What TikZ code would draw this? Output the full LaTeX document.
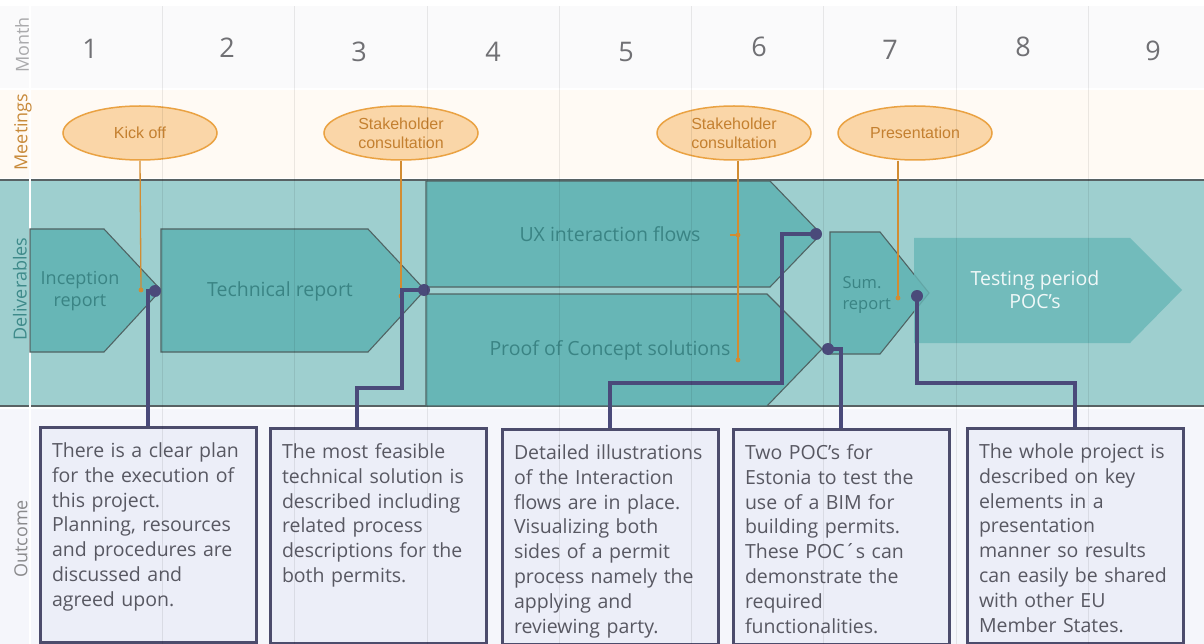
\documentclass[tikz,border=0pt]{standalone}
\usepackage{fontspec}
\setmainfont{Open Sans}
\newfontfamily\meetingfont{Liberation Sans}
\usepackage{xcolor}
\usepackage{tikz}
\usetikzlibrary{
  shapes.geometric
}
\definecolor{monthbg}{RGB}{250,250,251}
\definecolor{meetbg}{RGB}{255,250,244}
\definecolor{delivbg}{RGB}{158,207,207}
\definecolor{outbg}{RGB}{245,246,251}
\definecolor{bandline}{RGB}{88,98,100}
\definecolor{monthink}{RGB}{112,112,116}
\definecolor{monthlab}{RGB}{170,170,172}
\definecolor{meetlab}{RGB}{200,138,58}
\definecolor{delivlab}{RGB}{62,138,138}
\definecolor{outlab}{RGB}{138,138,140}
\definecolor{meetfill}{RGB}{250,214,168}
\definecolor{meetedge}{RGB}{234,162,66}
\definecolor{meetink}{RGB}{196,128,48}
\definecolor{meetstem}{RGB}{210,140,50}
\definecolor{delivfill}{RGB}{103,182,182}
\definecolor{delivedge}{RGB}{80,100,100}
\definecolor{delivink}{RGB}{58,132,132}
\definecolor{linkpurple}{RGB}{74,74,122}
\definecolor{outfill}{RGB}{236,238,248}
\definecolor{outedge}{RGB}{76,76,108}
\definecolor{outink}{RGB}{88,88,98}
\tikzset{
  rowlab/.style={rotate=90,font=\fontsize{18}{18}\selectfont},
  monthnum/.style={font=\fontsize{27}{27}\selectfont,text=monthink},
  meeting/.style={ellipse,draw=meetedge,line width=1.5pt,fill=meetfill,
    minimum width=154pt,minimum height=54pt,inner sep=0pt,align=center,
    text=meetink,font=\meetingfont\fontsize{16}{19}\selectfont},
  meetline/.style={draw=meetstem,line width=1.3pt},
  meetdot/.style={fill=meetstem},
  deliv/.style={draw=delivedge,line width=1.1pt,fill=delivfill,line join=miter},
  testing/.style={fill=delivfill,fill opacity=0.8},
  delivtext/.style={text=delivink,align=center,font=\fontsize{19.5}{22}\selectfont},
  testtext/.style={text=white!90!delivfill,align=center,
    font=\fontsize{19.5}{23}\selectfont},
  link/.style={draw=linkpurple,line width=3.2pt},
  pin/.style={fill=linkpurple},
  outbox/.style={draw=outedge,line width=3pt,fill=outfill,text=outink,
    align=left,text width=192pt,inner xsep=12pt,inner ysep=8pt,
    text height=22pt,text depth=177pt,anchor=north,
    font=\fontsize{19.5}{24.8}\selectfont},
  monthrule/.style={draw=black,opacity=0.08,line width=0.8pt}
}

\begin{document}
\begin{tikzpicture}[x=1pt,y=-1pt]
  \useasboundingbox (0,0) rectangle (1204,644);
  % row bands
  \fill[monthbg] (0,6) rectangle (1204,88);
  \fill[meetbg] (0,90) rectangle (1204,178);
  \fill[delivbg] (0,180) rectangle (1204,406);
  \fill[outbg] (0,409) rectangle (1204,644);
  \draw[bandline,line width=1.5pt] (0,180) -- (1204,180) (0,406) -- (1204,406);
  \draw[white,line width=1.2pt] (30,6) -- (30,644);

  \node[rowlab,text=monthlab] (lmonth) at (22,45) {Month};
  \node[rowlab,text=meetlab] (lmeet) at (23,132) {Meetings};
  \node[rowlab,text=delivlab] (ldeliv) at (20,289) {Deliverables};
  \node[rowlab,text=outlab] (lout) at (21,539) {Outcome};

  \foreach \m/\x/\y in {1/90/49,2/227/48,3/359/52,4/493/52,5/626/52,
      6/759/47,7/890/50,8/1023/47,9/1153/51}
    \node[monthnum] (m\m) at (\x,\y) {\m};

  % deliverables
  \draw[deliv] (30,229) -- (104,229) -- (161,290) coordinate (inc-tip)
    -- (104,352) -- (30,352) -- cycle;
  \draw[deliv] (161,229) -- (368,229) -- (425,290) coordinate (tech-tip)
    -- (368,352) -- (161,352) -- cycle;
  \draw[deliv] (426,181) -- (770,181) -- (821,234) coordinate (ux-tip)
    -- (770,287) -- (426,287) -- cycle;
  \draw[deliv] (426,294) -- (767,294) -- (822,349) coordinate (poc-tip)
    -- (767,406) -- (426,406) -- cycle;
  \draw[deliv] (830,232) -- (880,232) -- (929,293) coordinate (sum-tip)
    -- (880,354) -- (830,354) -- cycle;
  \fill[testing] (914,238) -- (1130,238) -- (1182,290) -- (1130,343)
    -- (914,343) -- cycle;

  \node[delivtext,font=\fontsize{18}{22}\selectfont] (inc) at (80,291) {Inception\\report};
  \node[delivtext] (tech) at (280,291) {Technical report};
  \node[delivtext] (ux) at (610,234) {UX interaction flows};
  \node[delivtext] (poc) at (610,350) {Proof of Concept solutions};
  \node[delivtext,align=left,anchor=west,font=\fontsize{16.5}{21}\selectfont]
    (sum) at (839,295) {Sum.\\report};
  \node[testtext] (test) at (1035,290) {Testing period\\POC’s};

  % meetings
  \node[meeting] (kick) at (140,133) {Kick off};
  \node[meeting] (stake1) at (401,133) {Stakeholder\\consultation};
  \node[meeting] (stake2) at (734,133) {Stakeholder\\consultation};
  \node[meeting] (pres) at (915,133) {Presentation};

  \coordinate (kick-end) at (141,290);
  \coordinate (stake1-end) at (401,296);
  \coordinate (stake2-mid) at (738,235);
  \coordinate (stake2-end) at (738,360);
  \coordinate (pres-end) at (898,298);
  \draw[meetline] (kick.south) -- (kick-end);
  \draw[meetline] (stake1.south) -- (stake1-end);
  \draw[meetline] (stake2.south -| stake2-end) -- (stake2-end);
  \draw[meetline] (stake2-mid) -- ++(-8,0);
  \draw[meetline] (pres.south -| pres-end) -- (pres-end);
  \foreach \p in {kick-end,stake1-end,stake2-mid,stake2-end,pres-end}
    \fill[meetdot] (\p) circle (2.4);

  % outcomes
  \node[outbox] (out1) at (148,426) {There is a clear plan\\for the execution of\\this project.\\Planning, resources\\and procedures are\\discussed and\\agreed upon.};
  \node[outbox] (out2) at (378,427) {The most feasible\\technical solution is\\described including\\related process\\descriptions for the\\both permits.};
  \node[outbox] (out3) at (610,428) {Detailed illustrations\\of the Interaction\\flows are in place.\\Visualizing both\\sides of a permit\\process namely the\\applying and\\reviewing party.};
  \node[outbox] (out4) at (841,428) {Two POC's for\\Estonia to test the\\use of a BIM for\\building permits.\\These POC´s can\\demonstrate the\\required\\functionalities.};
  \node[outbox] (out5) at (1075,427) {The whole project is\\described on key\\elements in a\\presentation\\manner so results\\can easily be shared\\with other EU\\Member States.};

  % links from deliverables to outcomes
  \coordinate (inc-pin) at (155,291);
  \coordinate (tech-pin) at (424,290);
  \coordinate (ux-pin) at (816,234);
  \coordinate (poc-pin) at (828,349);
  \coordinate (sum-pin) at (917,296);
  \draw[link] (inc-pin) -| (out1.north);
  \draw[link] (tech-pin) -| (402,388) -| ([xshift=-21pt]out2.north);
  \draw[link] (ux-pin) -| (782,383) -| (out3.north);
  \draw[link] (poc-pin) -| (out4.north);
  \draw[link] (sum-pin) -- (917,383) -| (out5.north);
  \foreach \p in {inc-pin,tech-pin,ux-pin,poc-pin,sum-pin}
    \fill[pin] (\p) circle (6);

  % month grid
  \foreach \i in {1,...,8}
    \draw[monthrule] ({30+132.3*\i},6) -- ({30+132.3*\i},644);
\end{tikzpicture}
\end{document}
